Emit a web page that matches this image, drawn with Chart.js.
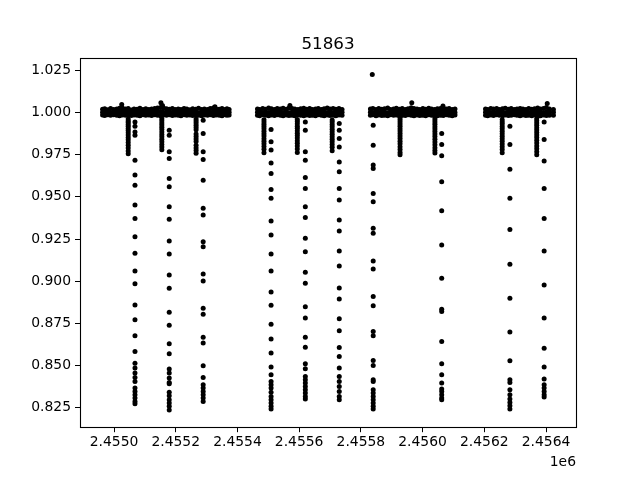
<!DOCTYPE html>
<html><head><meta charset="utf-8">
<script src="https://cdn.jsdelivr.net/npm/chart.js@4.4.1/dist/chart.umd.min.js"></script>
<style>html,body{margin:0;padding:0;background:#fff}canvas{display:block}</style>
</head><body>
<canvas id="c" width="640" height="480"></canvas>
<script>
// ---- text ----
const chartTitle = '51863';
const xOffsetLabel = '1e6';
// all day values are BJD - 2455000
const dayZero = 2455000;
const xTickDays = [0, 200, 400, 600, 800, 1000, 1200, 1400];
const xTickLabels = ['2.4550', '2.4552', '2.4554', '2.4556', '2.4558', '2.4560', '2.4562', '2.4564'];
const yTickValues = [0.825, 0.850, 0.875, 0.900, 0.925, 0.950, 0.975, 1.000, 1.025];
const yTickLabels = ['0.825', '0.850', '0.875', '0.900', '0.925', '0.950', '0.975', '1.000', '1.025'];
const xRange = [-110.2, 1497.2];
const yRange = [0.81344, 1.03253];

// ---- out-of-eclipse band (upper / middle / lower edge of the band) ----
const baselineDays = [
  -37, -30, -20, -11, -1, 9, 18, 27, 37, 46, 56, 65, 75, 84, 94, 103, 113, 122, 132, 141, 151, 160, 170, 179, 189, 198, 208, 217, 227, 236, 246, 255, 265, 274, 284, 293, 303, 312, 322, 331, 341, 350, 360, 366, 373,
  465, 472, 482, 491, 501, 510, 520, 529, 539, 548, 558, 567, 577, 586, 596, 605, 615, 624, 634, 643, 653, 662, 672, 681, 691, 700, 710, 719, 729, 739,
  831, 839, 849, 858, 868, 877, 887, 896, 906, 915, 925, 934, 944, 953, 963, 972, 982, 991, 1001, 1010, 1020, 1029, 1039, 1048, 1058, 1067, 1077, 1086, 1096, 1105,
  1204, 1211, 1221, 1230, 1240, 1249, 1259, 1268, 1278, 1287, 1297, 1306, 1316, 1325, 1335, 1344, 1354, 1363, 1373, 1382, 1392, 1401, 1411, 1424
];
const baselineHigh = [
  1.0019, 1.0022, 1.0016, 1.0024, 1.0018, 1.0021, 1.0025, 1.0027, 1.0020, 1.0023, 1.0015, 1.0021, 1.0019, 1.0025, 1.0018, 1.0022, 1.0017, 1.0020, 1.0024, 1.0026, 1.0029, 1.0028, 1.0022, 1.0019, 1.0024, 1.0018, 1.0021, 1.0017, 1.0023, 1.0020, 1.0016, 1.0022, 1.0019, 1.0025, 1.0018, 1.0021, 1.0017, 1.0024, 1.0027, 1.0021, 1.0019, 1.0023, 1.0018, 1.0022, 1.0017,
  1.0021, 1.0018, 1.0024, 1.0019, 1.0026, 1.0022, 1.0017, 1.0023, 1.0020, 1.0025, 1.0019, 1.0027, 1.0024, 1.0021, 1.0018, 1.0022, 1.0025, 1.0019, 1.0023, 1.0017, 1.0021, 1.0024, 1.0018, 1.0022, 1.0026, 1.0020, 1.0023, 1.0019, 1.0024, 1.0018,
  1.0020, 1.0023, 1.0018, 1.0024, 1.0019, 1.0022, 1.0026, 1.0018, 1.0021, 1.0025, 1.0019, 1.0023, 1.0017, 1.0022, 1.0028, 1.0024, 1.0020, 1.0018, 1.0023, 1.0019, 1.0025, 1.0021, 1.0017, 1.0022, 1.0024, 1.0027, 1.0020, 1.0023, 1.0018, 1.0021,
  1.0021, 1.0018, 1.0024, 1.0020, 1.0023, 1.0017, 1.0022, 1.0025, 1.0019, 1.0023, 1.0018, 1.0021, 1.0024, 1.0020, 1.0017, 1.0023, 1.0019, 1.0022, 1.0026, 1.0020, 1.0024, 1.0029, 1.0021, 1.0018
];
const baselineMid = [
  1.0002, 0.9999, 1.0004, 1.0000, 1.0003, 0.9998, 1.0001, 1.0005, 0.9999, 1.0002, 1.0000, 1.0003, 0.9998, 1.0001, 1.0004, 0.9999, 1.0002, 1.0000, 1.0003, 1.0006, 1.0004, 1.0001, 0.9999, 1.0002, 1.0000, 1.0003, 0.9998, 1.0001, 1.0004, 0.9999, 1.0002, 1.0000, 1.0003, 0.9998, 1.0001, 1.0004, 0.9999, 1.0002, 1.0003, 1.0000, 0.9998, 1.0002, 1.0001, 0.9999, 1.0002,
  1.0001, 1.0004, 0.9999, 1.0002, 1.0000, 1.0003, 0.9998, 1.0002, 1.0005, 1.0000, 1.0003, 0.9999, 1.0002, 1.0004, 1.0001, 0.9998, 1.0003, 1.0000, 1.0002, 0.9999, 1.0004, 1.0001, 0.9998, 1.0003, 1.0000, 1.0002, 0.9999, 1.0004, 1.0001, 1.0002,
  1.0002, 0.9999, 1.0003, 1.0000, 1.0004, 1.0001, 0.9998, 1.0002, 1.0000, 1.0003, 0.9999, 1.0002, 1.0004, 1.0000, 1.0003, 1.0001, 0.9998, 1.0002, 1.0000, 1.0004, 1.0001, 0.9999, 1.0003, 1.0000, 1.0002, 1.0004, 0.9999, 1.0001, 1.0003, 1.0000,
  1.0001, 1.0003, 0.9999, 1.0002, 1.0000, 1.0004, 1.0001, 0.9998, 1.0003, 1.0000, 1.0002, 0.9999, 1.0004, 1.0001, 1.0003, 1.0000, 0.9998, 1.0002, 1.0004, 1.0001, 0.9999, 1.0003, 1.0000, 1.0002
];
const baselineLow = [
  0.9985, 0.9982, 0.9986, 0.9983, 0.9987, 0.9984, 0.9981, 0.9985, 0.9983, 0.9986, 0.9982, 0.9985, 0.9984, 0.9980, 0.9986, 0.9983, 0.9985, 0.9982, 0.9987, 0.9984, 0.9981, 0.9985, 0.9983, 0.9986, 0.9982, 0.9985, 0.9984, 0.9980, 0.9986, 0.9983, 0.9985, 0.9982, 0.9987, 0.9984, 0.9981, 0.9985, 0.9983, 0.9986, 0.9982, 0.9985, 0.9984, 0.9981, 0.9986, 0.9983, 0.9985,
  0.9984, 0.9981, 0.9986, 0.9983, 0.9980, 0.9985, 0.9982, 0.9986, 0.9983, 0.9981, 0.9985, 0.9982, 0.9984, 0.9980, 0.9986, 0.9983, 0.9981, 0.9985, 0.9982, 0.9984, 0.9980, 0.9986, 0.9983, 0.9981, 0.9985, 0.9982, 0.9984, 0.9981, 0.9985, 0.9983,
  0.9983, 0.9986, 0.9981, 0.9985, 0.9982, 0.9984, 0.9980, 0.9986, 0.9983, 0.9985, 0.9981, 0.9984, 0.9982, 0.9986, 0.9983, 0.9980, 0.9985, 0.9982, 0.9984, 0.9981, 0.9986, 0.9983, 0.9985, 0.9981, 0.9984, 0.9982, 0.9986, 0.9983, 0.9980, 0.9985,
  0.9984, 0.9981, 0.9985, 0.9982, 0.9986, 0.9983, 0.9980, 0.9985, 0.9982, 0.9984, 0.9986, 0.9983, 0.9981, 0.9985, 0.9982, 0.9984, 0.9980, 0.9986, 0.9983, 0.9981, 0.9985, 0.9982, 0.9984, 0.9983
];

// ---- isolated points above the band ----
const extraDays = [25, 152, 157, 327, 570, 965, 1066, 1404, 837];
const extraFlux = [1.0048, 1.0058, 1.0042, 1.0034, 1.0042, 1.0058, 1.0038, 1.0053, 1.0225];

// ---- deep (primary) eclipse columns ----
const primaryDays = [68, 179, 289, 509, 620, 730, 840, 1062, 1283, 1394];
const primaryFlux = [
  [0.9944, 0.9919, 0.9885, 0.9865, 0.9717, 0.9629, 0.9569, 0.9451, 0.9372, 0.9264, 0.9165, 0.9061, 0.8984, 0.8859, 0.8771, 0.8676, 0.8583, 0.8514, 0.8485, 0.8455, 0.8429, 0.8406, 0.8367, 0.8346, 0.8327, 0.8307, 0.8287, 0.8274],
  [0.9895, 0.9865, 0.9767, 0.9727, 0.9609, 0.9559, 0.9441, 0.9367, 0.9238, 0.9161, 0.9037, 0.8958, 0.8816, 0.8739, 0.8629, 0.8570, 0.8479, 0.8455, 0.8426, 0.8400, 0.8392, 0.8341, 0.8321, 0.8297, 0.8278, 0.8258, 0.8236],
  [0.9954, 0.9875, 0.9767, 0.9722, 0.9599, 0.9432, 0.9392, 0.9234, 0.9204, 0.9043, 0.9001, 0.8840, 0.8804, 0.8668, 0.8633, 0.8499, 0.8429, 0.8386, 0.8367, 0.8346, 0.8327, 0.8307, 0.8287],
  [0.9899, 0.9826, 0.9777, 0.9701, 0.9639, 0.9544, 0.9491, 0.9356, 0.9274, 0.9161, 0.9061, 0.8936, 0.8858, 0.8745, 0.8657, 0.8574, 0.8491, 0.8445, 0.8406, 0.8386, 0.8367, 0.8341, 0.8317, 0.8297, 0.8278, 0.8258, 0.8242],
  [0.9944, 0.9895, 0.9767, 0.9717, 0.9615, 0.9550, 0.9441, 0.9378, 0.9254, 0.9175, 0.9053, 0.8988, 0.8849, 0.8781, 0.8668, 0.8609, 0.8510, 0.8481, 0.8435, 0.8416, 0.8396, 0.8376, 0.8357, 0.8337, 0.8317, 0.8301],
  [0.9935, 0.9895, 0.9846, 0.9796, 0.9707, 0.9648, 0.9550, 0.9481, 0.9362, 0.9297, 0.9179, 0.9090, 0.8960, 0.8895, 0.8777, 0.8706, 0.8607, 0.8554, 0.8485, 0.8435, 0.8406, 0.8376, 0.8346, 0.8317, 0.8297],
  [0.9925, 0.9806, 0.9688, 0.9668, 0.9520, 0.9471, 0.9313, 0.9284, 0.9120, 0.9072, 0.8909, 0.8854, 0.8701, 0.8676, 0.8530, 0.8500, 0.8416, 0.8406, 0.8357, 0.8337, 0.8317, 0.8297, 0.8278, 0.8258, 0.8242],
  [0.9875, 0.9810, 0.9743, 0.9589, 0.9417, 0.9215, 0.9017, 0.8834, 0.8820, 0.8642, 0.8510, 0.8445, 0.8396, 0.8361, 0.8346, 0.8327, 0.8307, 0.8297],
  [0.9919, 0.9810, 0.9664, 0.9491, 0.9307, 0.9100, 0.8899, 0.8698, 0.8528, 0.8416, 0.8400, 0.8357, 0.8327, 0.8301, 0.8281, 0.8262, 0.8242],
  [0.9944, 0.9840, 0.9712, 0.9550, 0.9372, 0.9179, 0.8978, 0.8781, 0.8603, 0.8491, 0.8420, 0.8386, 0.8367, 0.8346, 0.8327, 0.8313]
];

// ---- shallow (secondary) eclipse columns ----
const secondaryDays = [46, 155, 266, 486, 594, 707, 927, 1040, 1258, 1370];
const secondaryFlux = [
  [0.9962, 0.9950, 0.9941, 0.9929, 0.9918, 0.9905, 0.9893, 0.9880, 0.9866, 0.9851, 0.9838, 0.9822, 0.9806, 0.9790, 0.9772, 0.9756],
  [0.9963, 0.9951, 0.9938, 0.9926, 0.9912, 0.9899, 0.9885, 0.9870, 0.9856, 0.9842, 0.9826, 0.9810, 0.9795, 0.9779],
  [0.9962, 0.9949, 0.9937, 0.9924, 0.9911, 0.9898, 0.9872, 0.9858, 0.9843, 0.9828, 0.9805, 0.9790, 0.9774, 0.9758],
  [0.9957, 0.9944, 0.9930, 0.9917, 0.9903, 0.9889, 0.9874, 0.9860, 0.9845, 0.9830, 0.9814, 0.9798, 0.9782, 0.9762],
  [0.9958, 0.9946, 0.9933, 0.9919, 0.9906, 0.9892, 0.9877, 0.9863, 0.9848, 0.9833, 0.9817, 0.9801, 0.9784, 0.9763],
  [0.9956, 0.9943, 0.9929, 0.9915, 0.9900, 0.9886, 0.9871, 0.9856, 0.9841, 0.9826, 0.9810, 0.9794, 0.9773],
  [0.9971, 0.9958, 0.9945, 0.9932, 0.9918, 0.9904, 0.9890, 0.9876, 0.9861, 0.9846, 0.9830, 0.9814, 0.9797, 0.9780, 0.9763, 0.9750],
  [0.9970, 0.9957, 0.9944, 0.9930, 0.9916, 0.9902, 0.9887, 0.9872, 0.9857, 0.9841, 0.9825, 0.9808, 0.9791, 0.9774, 0.9760],
  [0.9957, 0.9944, 0.9931, 0.9917, 0.9903, 0.9889, 0.9874, 0.9859, 0.9844, 0.9829, 0.9813, 0.9797, 0.9780, 0.9762],
  [0.9964, 0.9951, 0.9938, 0.9924, 0.9910, 0.9896, 0.9881, 0.9866, 0.9851, 0.9835, 0.9819, 0.9802, 0.9785, 0.9767, 0.9750]
];

// ---- assemble points ----
const points = [];
const nBase = Math.min(baselineDays.length, baselineHigh.length, baselineMid.length, baselineLow.length);
for (let i = 0; i < nBase; i++) {
  points.push({x: baselineDays[i], y: baselineHigh[i]});
  points.push({x: baselineDays[i], y: baselineMid[i]});
  points.push({x: baselineDays[i], y: baselineLow[i]});
}
extraDays.forEach((d, i) => points.push({x: d, y: extraFlux[i]}));
secondaryDays.forEach((d, i) => secondaryFlux[i].forEach(f => points.push({x: d, y: f})));
primaryDays.forEach((d, i) => primaryFlux[i].forEach(f => points.push({x: d, y: f})));

const FONT = 'DejaVu Sans';

const framePlugin = {
  id: 'frame',
  afterDraw(chart) {
    const {ctx, chartArea: a} = chart;
    ctx.save();
    ctx.strokeStyle = '#000';
    ctx.lineWidth = 1.1;
    ctx.strokeRect(Math.round(a.left) + 0.5, Math.round(a.top) + 0.5,
                   Math.round(a.right) - Math.round(a.left), Math.round(a.bottom) - Math.round(a.top));
    ctx.fillStyle = '#000';
    ctx.font = '16.7px "' + FONT + '"';
    ctx.textAlign = 'center';
    ctx.textBaseline = 'alphabetic';
    ctx.fillText(chartTitle, (a.left + a.right) / 2, a.top - 8.3);
    ctx.font = '13.9px "' + FONT + '"';
    ctx.textAlign = 'right';
    ctx.textBaseline = 'middle';
    ctx.fillText(xOffsetLabel, a.right, 462);
    ctx.restore();
  }
};

new Chart(document.getElementById('c'), {
  type: 'scatter',
  data: {
    datasets: [{
      data: points,
      backgroundColor: '#000',
      borderWidth: 0,
      pointRadius: 2.5,
      pointHoverRadius: 2.5
    }]
  },
  options: {
    responsive: false,
    animation: false,
    devicePixelRatio: 1,
    events: [],
    layout: {padding: {left: 0, right: 64, top: 57.6, bottom: 0}},
    plugins: {legend: {display: false}, title: {display: false}, tooltip: {enabled: false}},
    scales: {
      x: {
        type: 'linear',
        min: xRange[0], max: xRange[1],
        afterFit(s) { s.height = 52.8; },
        afterBuildTicks(s) { s.ticks = xTickDays.map(v => ({value: v})); },
        border: {display: false},
        grid: {drawOnChartArea: false, drawTicks: true, tickLength: 5, color: '#000', lineWidth: 1},
        ticks: {
          color: '#000', padding: 2, maxRotation: 0, autoSkip: false,
          font: {family: FONT, size: 13.9},
          callback(v) { const k = xTickDays.indexOf(v); return k >= 0 ? xTickLabels[k] : ''; }
        }
      },
      y: {
        type: 'linear',
        min: yRange[0], max: yRange[1],
        afterFit(s) { s.width = 80; },
        afterBuildTicks(s) { s.ticks = yTickValues.map(v => ({value: v})); },
        border: {display: false},
        grid: {drawOnChartArea: false, drawTicks: true, tickLength: 5, color: '#000', lineWidth: 1},
        ticks: {
          color: '#000', padding: 4, autoSkip: false,
          font: {family: FONT, size: 13.9},
          callback(v) { const k = yTickValues.findIndex(t => Math.abs(t - v) < 1e-9); return k >= 0 ? yTickLabels[k] : ''; }
        }
      }
    }
  },
  plugins: [framePlugin]
});
</script>
</body></html>
